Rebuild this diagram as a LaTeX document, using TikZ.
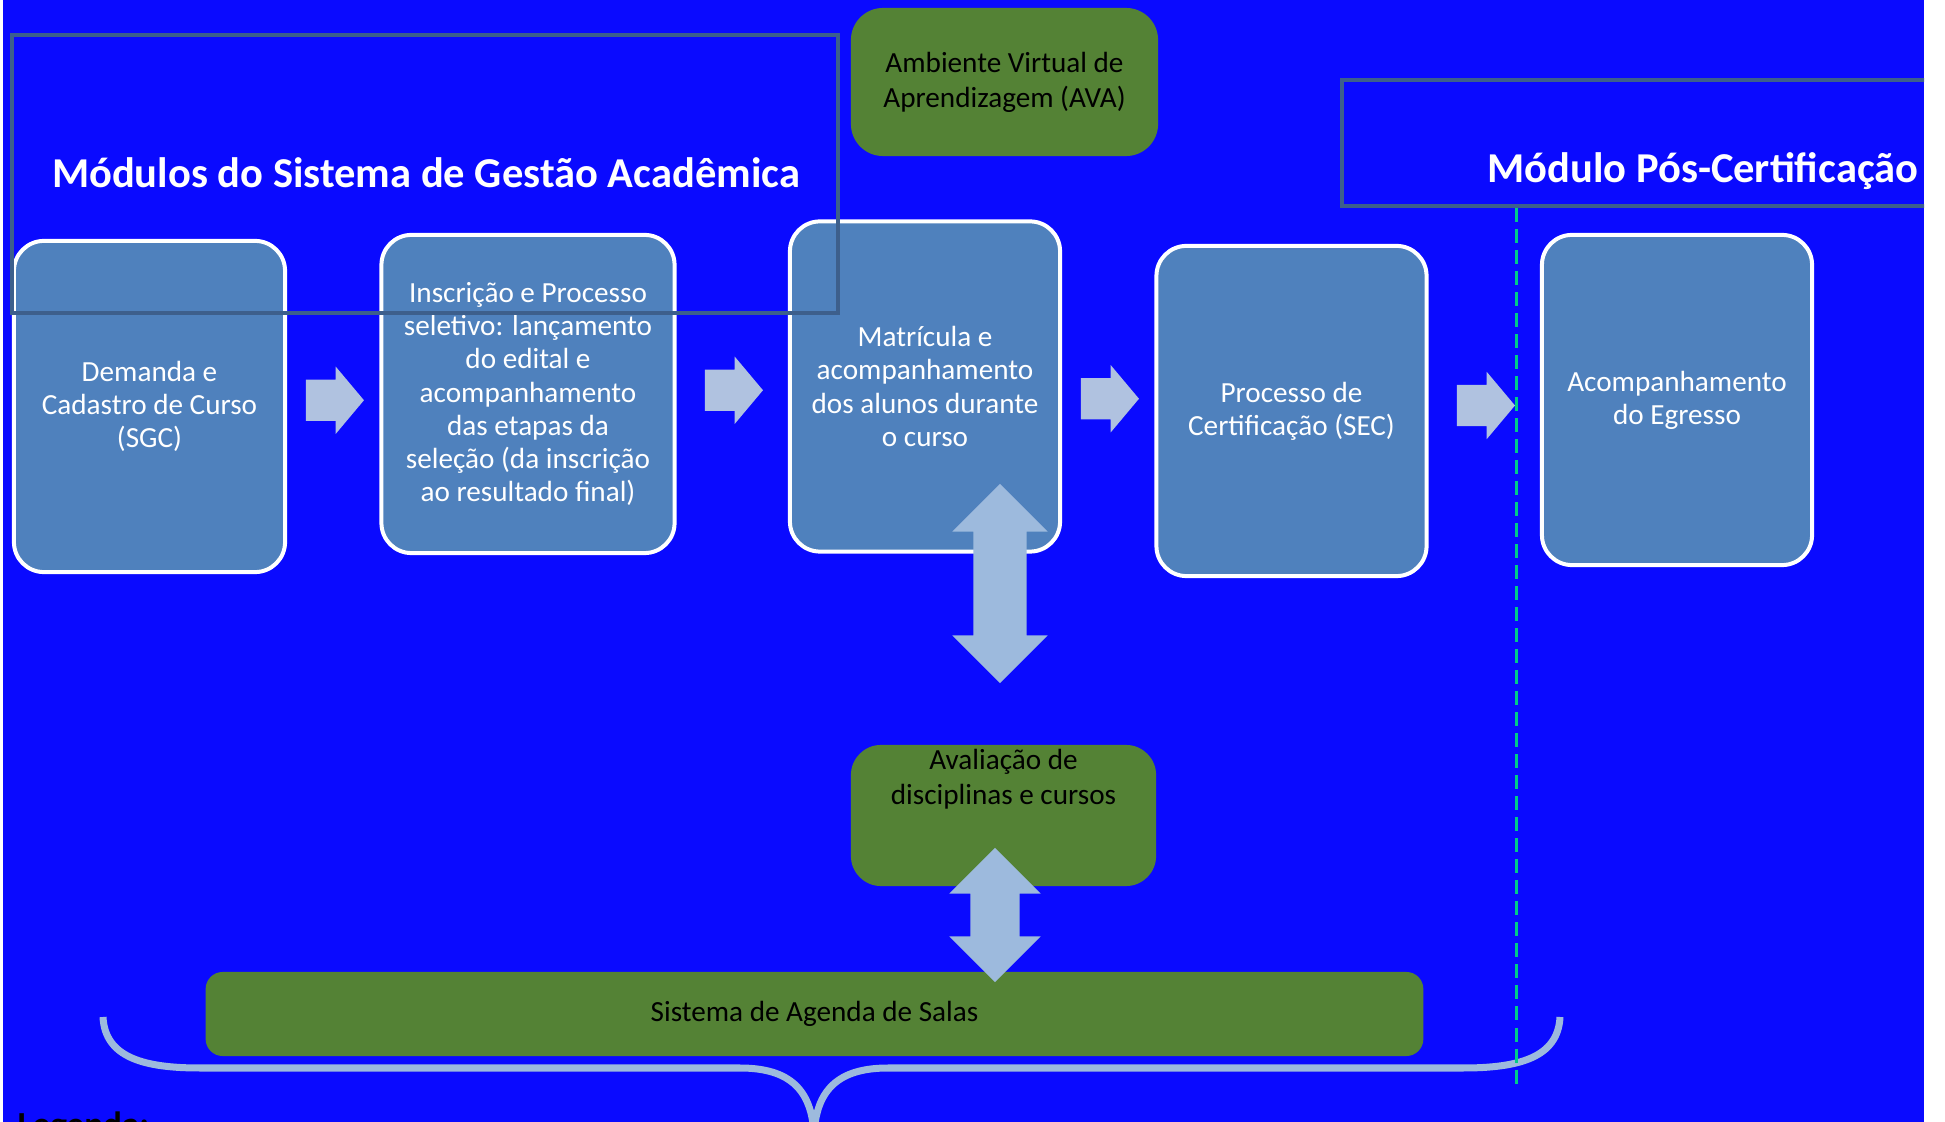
\documentclass[tikz,border=0pt]{standalone}
\usepackage{fontspec}
\setmainfont{Carlito}
\usetikzlibrary{shapes.arrows, calc}
\definecolor{fundo}{RGB}{10,10,255}
\definecolor{caixa}{RGB}{79,129,189}
\definecolor{verde}{RGB}{84,130,53}
\definecolor{seta}{RGB}{176,194,224}
\definecolor{setavert}{RGB}{157,186,221}
\definecolor{moldura}{RGB}{61,95,140}
\definecolor{tracejado}{RGB}{0,204,136}

\begin{document}
\begin{tikzpicture}[x=0.01cm, y=-0.01cm,
    modbox/.style={draw=white, line width=0.04cm, fill=caixa, rounded corners=0.3cm, text=white,
      align=center, inner sep=0pt, minimum width=2.70cm, minimum height=3.30cm,
      font=\fontsize{8.3}{9.4}\selectfont},
    greenbox/.style={fill=verde, rounded corners=0.3cm, align=center, inner sep=0pt,
      font=\fontsize{8.3}{10}\selectfont},
    labeltop/.style={anchor=north, align=center, inner sep=0pt, yshift=-0.04cm,
      font=\fontsize{8.3}{10}\selectfont},
    flowarrow/.style={single arrow, fill=seta, inner xsep=0pt, inner ysep=0.2cm, minimum height=0.58cm,
      single arrow head extend=0.13cm, single arrow tip angle=100, xshift=-0.07cm},
    linkarrow/.style={double arrow, fill=setavert, inner xsep=0pt, rotate=90,
      double arrow head extend=0.21cm},
    framebox/.style={draw=moldura, line width=0.045cm},
    heading/.style={text=white, font=\fontsize{12.1}{14}\selectfont\bfseries, inner sep=0pt, anchor=base},
    sepline/.style={draw=tracejado, line width=0.03cm, dash pattern=on 0.14cm off 0.07cm},
    bracestroke/.style={draw=setavert, line width=0.07cm}
  ]
  \useasboundingbox (0,0) rectangle (1945,1122);
  \begin{scope}
    \clip (3,0) rectangle (1924,1122);
    \fill[fundo] (3,0) rectangle (1924,1122);

    \node[greenbox, rounded corners=0.32cm, minimum width=3.07cm, minimum height=1.48cm] (ava)
      at (1004.5,82) {Ambiente Virtual de\\Aprendizagem (AVA)};

    \node[modbox, minimum width=2.71cm, minimum height=3.31cm] (dem) at (149.5,406.5)
      {Demanda e\\Cadastro de Curso\\(SGC)};
    \node[modbox, minimum width=2.93cm, minimum height=3.18cm] (insc) at (528,394)
      {Inscrição e Processo\\seletivo: lançamento\\do edital e\\acompanhamento\\das etapas da\\seleção (da inscrição\\ao resultado final)};
    \node[modbox] (matr) at (925,386.5) {Matrícula e\\acompanhamento\\dos alunos durante\\o curso};
    \node[modbox] (cert) at (1291.5,411) {Processo de\\Certificação (SEC)};
    \node[modbox] (egr) at (1677,400) {Acompanhamento\\do Egresso};

    \foreach \a/\b in {dem/insc, insc/matr, matr/cert, cert/egr}
      \node[flowarrow] (seta-\a) at ($(\a.east)!0.5!(\b.west)$) {};

    \node[linkarrow, inner ysep=0.26cm, minimum height=1.99cm] (setaA) at (1000,583.5) {};

    \draw[framebox] (12,35) rectangle (838,313);
    \node[heading] (titulo) at (426,187.5) {Módulos do Sistema de Gestão Acadêmica};
    \draw[framebox] (1342,80) rectangle (1960,206);
    \node[heading] (titulopos) at (1703,183) {Módulo Pós-Certificação};

    \node[greenbox, minimum width=3.05cm, minimum height=1.41cm,
      label={[labeltop]north:{Avaliação de\\disciplinas e cursos}}] (aval) at (1003.5,815.5) {};
    \node[greenbox, rounded corners=0.17cm, minimum width=12.17cm, minimum height=0.84cm] (agenda)
      at (814.5,1014) {Sistema de Agenda de Salas};
    \node[linkarrow, inner ysep=0.24cm, minimum height=1.34cm] (setaB) at (995,915) {};

    \draw[bracestroke] (103,1017) .. controls (105,1058) and (145,1068) .. (200,1068)
      -- (740,1068) .. controls (790,1068) and (812,1090) .. (814,1135);
    \draw[bracestroke] (1560,1017) .. controls (1558,1058) and (1518,1068) .. (1463,1068)
      -- (888,1068) .. controls (838,1068) and (816,1090) .. (814,1135);

    \draw[sepline] (1516,208) -- (1516,1089);

    \node[anchor=north west, inner sep=0pt, font=\fontsize{10}{12}\selectfont\bfseries] (legenda)
      at (17,1111) {Legenda:};
  \end{scope}
\end{tikzpicture}
\end{document}
